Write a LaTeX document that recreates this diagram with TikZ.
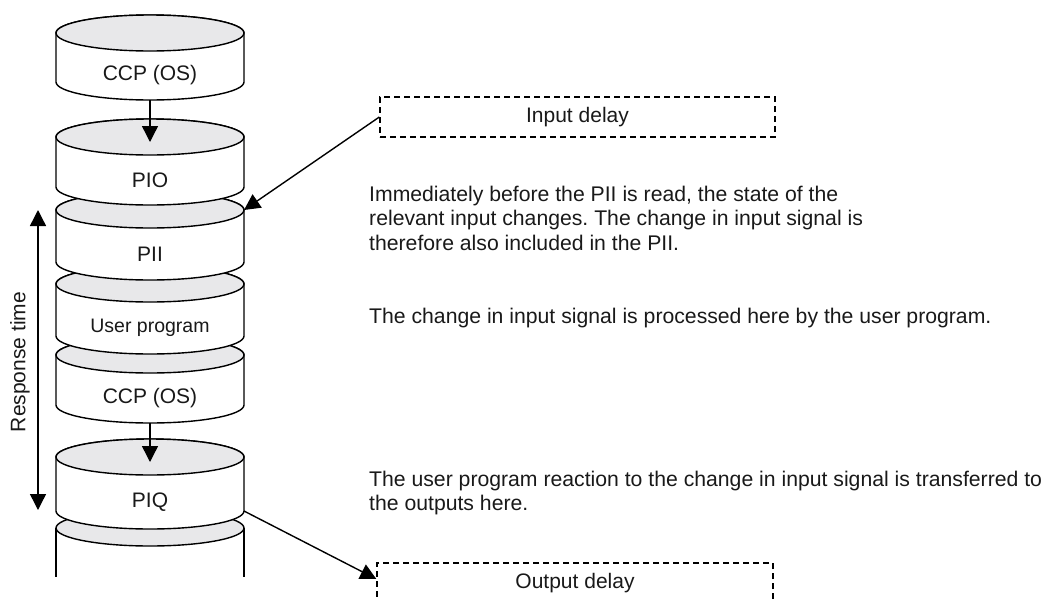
\documentclass[tikz,border=0pt]{standalone}
\usepackage{fontspec}
\setmainfont{Liberation Sans}
\usetikzlibrary{arrows.meta}
\frenchspacing
\definecolor{topgray}{RGB}{232,232,234}
\definecolor{txt}{RGB}{25,25,25}
\tikzset{
  cylline/.style={line width=1.4pt, draw=black},
  lbl/.style={font=\fontsize{21}{24.5}\selectfont, text=txt, inner sep=0pt},
  desc/.style={lbl, font=\fontsize{21.2}{24.5}\selectfont, align=left, anchor=west},
  dbox/.style={draw=black, dash pattern=on 6pt off 4pt, line width=1.3pt},
  arr/.style={line width=1.4pt, -{Triangle[length=16pt,width=16pt]}},
  darr/.style={line width=1.4pt, {Triangle[length=16pt,width=16pt]}-{Triangle[length=16pt,width=16pt]}},
}
\newcommand\mycyl[4]{%
  \path[cylline, fill=white] (56,#1) -- (56,#2)
    arc[start angle=180, end angle=360, x radius=94pt, y radius=18pt]
    -- (244,#1)
    arc[start angle=0, end angle=180, x radius=94pt, y radius=18pt] -- cycle;
  \path[cylline, fill=topgray] (150,#1) ellipse[x radius=94pt, y radius=18pt];
  \node[lbl] (#4) at (150,{(#1+#2)/2+18}) {#3};
  \coordinate (#4-in) at (150,{#1+5});
  \coordinate (#4-bot) at (150,{#2+18});
  \coordinate (#4-tr) at (244,#1);
  \coordinate (#4-br) at (244,#2);
}
\begin{document}
\begin{tikzpicture}[x=1pt,y=-1pt]
\path[use as bounding box, clip] (0,0) rectangle (1045,598);
% open cylinder at the bottom
\path[fill=white] (56,528) rectangle (244,598);
\draw[cylline] (56,528) -- (56,577) (244,528) -- (244,577);
\path[cylline, fill=topgray] (150,528) ellipse[x radius=94pt, y radius=18pt];
% stacked cylinders, drawn from bottom to top
\mycyl{457}{511}{PIQ}{c6}
\mycyl{355}{405}{CCP (OS)}{c5}
\mycyl{284}{336}{\fontsize{19.5}{24}\selectfont User program}{c4}
\mycyl{210}{262}{PII}{c3}
\mycyl{137}{187}{PIO}{c2}
\mycyl{33}{82}{CCP (OS)}{c1}
% arrows between cylinders
\draw[arr] (c1-bot) -- (c2-in);
\draw[arr] (c5-bot) -- (c6-in);
% response time
\coordinate (rtbot) at (38,510);
\coordinate (rttop) at (38,210);
\draw[darr] (rtbot) -- (rttop);
\node[lbl, rotate=90] (rtlabel) at (20,362) {Response time};
% delay boxes
\node[lbl, dbox, minimum width=395pt, minimum height=40pt] (inbox) at (577.5,117) {Input delay};
\node[lbl, dbox, minimum width=396pt, minimum height=40pt] (outbox) at (575,583) {Output delay};
\draw[arr] (inbox.west) -- (c3-tr);
\draw[arr] (c6-br) -- ([yshift=4pt]outbox.west);
% descriptions
\node[desc] (d1) at (369,218) {Immediately before the PII is read, the state of the\\relevant input changes. The change in input signal is\\therefore also included in the PII.};
\node[desc] (d2) at (369,318) {The change in input signal is processed here by the user program.};
\node[desc] (d3) at (369,493) {The user program reaction to the change in input signal is transferred to\\the outputs here.};
\end{tikzpicture}
\end{document}
